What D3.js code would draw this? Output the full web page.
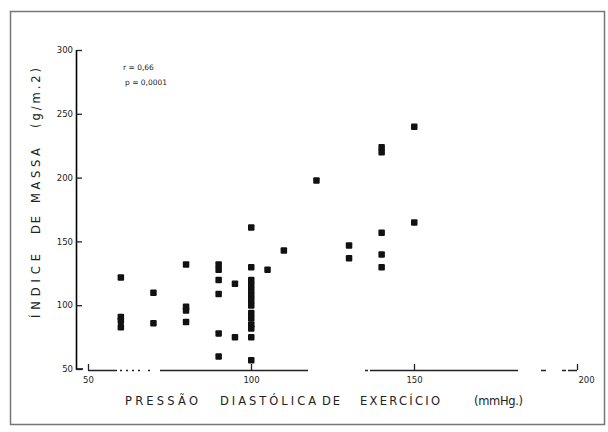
<!DOCTYPE html>
<html>
<head>
<meta charset="utf-8">
<script src="https://cdn.jsdelivr.net/npm/d3@7"></script>
<style>
  body { margin: 0; background: #fff; }
  svg { display: block; }
  .tick text { font-family: "DejaVu Sans", sans-serif; font-size: 8.5px; fill: #222; }
  .ttl { font-family: "DejaVu Sans", sans-serif; font-size: 11.5px; fill: #222; }
</style>
</head>
<body>
<div id="chart"></div>
<script>
// pressao diastolica de exercicio (mmHg) vs indice de massa (g/m2)
const pressao = [60, 60, 60, 60, 70, 70, 80, 80, 80, 80,
                 90, 90, 90, 90, 90, 90, 95, 95,
                 100, 100, 100, 100, 100, 100, 100, 100, 100, 100, 100, 100, 100, 100,
                 105, 110, 120, 130, 130, 140, 140, 140, 140, 140, 150, 150];
const indice = [122, 91, 88, 83, 110, 86, 132, 99, 96, 87,
                132, 128, 120, 109, 78, 60, 117, 75,
                161, 130, 120, 116, 112, 108, 104, 100, 94, 90, 85, 82, 75, 57,
                128, 143, 198, 147, 137, 224, 220, 157, 140, 130, 240, 165];
const xTicks = [50, 100, 150, 200];
const yTicks = [50, 100, 150, 200, 250, 300];

const width = 608, height = 432;

const svg = d3.select("#chart").append("svg")
    .attr("width", width)
    .attr("height", height);

// frame round the figure
svg.append("rect")
    .attr("x", 10.5).attr("y", 11.5)
    .attr("width", 594).attr("height", 413)
    .attr("fill", "none")
    .attr("stroke", "#777")
    .attr("stroke-width", 1.5);

const x = d3.scaleLinear().domain([50, 200]).range([88, 577]);
const y = d3.scaleLinear().domain([50, 300]).range([369, 50]);

// y axis line, one plain path
svg.append("path")
    .attr("d", d3.line()([[76.5, y(300)], [76.5, y(50)], [83, y(50)]]))
    .attr("fill", "none")
    .attr("stroke", "#000")
    .attr("stroke-width", 1.6);

// x axis (the scan has gaps in the line)
const gx = svg.append("g")
    .attr("transform", "translate(0,370)")
    .call(d3.axisBottom(x).tickValues(xTicks).tickSizeInner(-6).tickSizeOuter(0).tickPadding(7));
gx.select(".domain").remove();
gx.append("line")
    .attr("x1", x(50)).attr("x2", x(200))
    .attr("y1", 0.5).attr("y2", 0.5)
    .attr("stroke", "#222")
    .attr("stroke-width", 1.3)
    .attr("stroke-dasharray", "29,3,2,4,2,4,2,4,2,8,2,10,148,57,3,2,148,23,5,16,4,2,9,20");
gx.selectAll(".tick line").attr("stroke", "#222").attr("stroke-width", 1.3);
gx.selectAll(".tick text").attr("dx", d => d === 200 ? 9 : 0);

// y axis ticks and labels
const gy = svg.append("g")
    .attr("transform", "translate(76,0)")
    .call(d3.axisLeft(y).tickValues(yTicks).tickSizeInner(-6).tickSizeOuter(0).tickPadding(3));
gy.select(".domain").remove();
gy.selectAll(".tick line").attr("stroke", "#222").attr("stroke-width", 1.3);

// points
svg.append("g")
    .selectAll("rect")
    .data(pressao.map((p, i) => [p, indice[i]]))
    .enter().append("rect")
    .attr("x", d => x(d[0]) - 3)
    .attr("y", d => y(d[1]) - 3)
    .attr("width", 6.5)
    .attr("height", 6.5)
    .attr("rx", 1)
    .attr("fill", "#111");

// statistics
svg.append("text").attr("class", "ttl")
    .attr("x", 123).attr("y", 70)
    .style("font-size", "7.5px")
    .text("r = 0,66");
svg.append("text").attr("class", "ttl")
    .attr("x", 125).attr("y", 85)
    .style("font-size", "7.5px")
    .text("p = 0,0001");

// x title, word by word as in the scan
const xWords = [["PRESSÃO", 125, 73], ["DIASTÓLICA", 220, 96], ["DE", 322, 18],
                ["EXERCÍCIO", 360, 80], ["(mmHg.)", 474, 49]];
svg.append("g").selectAll("text")
    .data(xWords)
    .enter().append("text")
    .attr("class", "ttl")
    .attr("x", d => d[1])
    .attr("y", 405)
    .attr("textLength", d => d[2])
    .attr("lengthAdjust", "spacing")
    .text(d => d[0]);

// y title, rotated
const yWords = [["ÍNDICE", 318, 64], ["DE", 234, 18], ["MASSA", 203, 55], ["(g/m.2)", 128, 60]];
svg.append("g").selectAll("text")
    .data(yWords)
    .enter().append("text")
    .attr("class", "ttl")
    .attr("transform", d => `translate(40,${d[1]}) rotate(-90)`)
    .attr("textLength", d => d[2])
    .attr("lengthAdjust", "spacing")
    .text(d => d[0]);
</script>
</body>
</html>
